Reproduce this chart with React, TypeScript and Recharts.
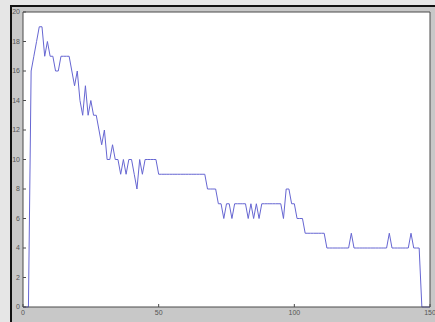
import { LineChart, Line, XAxis, YAxis, CartesianGrid } from "recharts";

// one value per x step, x = 0..150
const COUNTS = [
  0, 0, 0, 16, 17, 18, 19, 19, 17, 18,
  17, 17, 16, 16, 17, 17, 17, 17, 16, 15,
  16, 14, 13, 15, 13, 14, 13, 13, 12, 11,
  12, 10, 10, 11, 10, 10, 9, 10, 9, 10,
  10, 9, 8, 10, 9, 10, 10, 10, 10, 10,
  9, 9, 9, 9, 9, 9, 9, 9, 9, 9,
  9, 9, 9, 9, 9, 9, 9, 9, 8, 8,
  8, 8, 7, 7, 6, 7, 7, 6, 7, 7,
  7, 7, 7, 6, 7, 6, 7, 6, 7, 7,
  7, 7, 7, 7, 7, 7, 6, 8, 8, 7,
  7, 6, 6, 6, 5, 5, 5, 5, 5, 5,
  5, 5, 4, 4, 4, 4, 4, 4, 4, 4,
  4, 5, 4, 4, 4, 4, 4, 4, 4, 4,
  4, 4, 4, 4, 4, 5, 4, 4, 4, 4,
  4, 4, 4, 5, 4, 4, 4, 0, 0, 0,
  0,
];

const X_TICKS = [0, 50, 100, 150];
const Y_TICKS = [0, 2, 4, 6, 8, 10, 12, 14, 16, 18, 20];

const data = COUNTS.map((v, i) => ({ x: i, v }));

const AXIS = "#4a4a4a";
const tickStyle = { fontSize: 7, fill: "#555", fontFamily: "Liberation Sans, Arial, sans-serif" };

export default function App() {
  return (
    <div
      style={{
        position: "fixed",
        left: 0,
        top: 0,
        width: 435,
        height: 322,
        overflow: "hidden",
        background: "#e6e6e6",
      }}
    >
      <div
        style={{
          position: "absolute",
          left: 10,
          top: 5,
          right: 0,
          bottom: 0,
          background: "#c8c8c8",
          borderLeft: "2px solid #111",
          borderTop: "2px solid #111",
        }}
      />
      <div style={{ position: "absolute", left: 0, top: 0 }}>
        <LineChart
          width={435}
          height={322}
          data={data}
          margin={{ top: 11, right: 4, left: 0, bottom: 0 }}
        >
          <CartesianGrid horizontal={false} vertical={false} fill="#ffffff" stroke="none" />
          <XAxis
            dataKey="x"
            type="number"
            domain={[0, 150]}
            ticks={X_TICKS}
            height={15}
            tickSize={-3}
            tickMargin={6}
            tick={tickStyle}
            axisLine={{ stroke: AXIS }}
            tickLine={{ stroke: AXIS }}
            interval={0}
          />
          <XAxis
            xAxisId="t"
            orientation="top"
            dataKey="x"
            type="number"
            domain={[0, 150]}
            ticks={X_TICKS}
            height={1}
            tickSize={-3}
            tick={false}
            axisLine={{ stroke: AXIS }}
            tickLine={{ stroke: AXIS }}
            interval={0}
          />
          <YAxis
            type="number"
            domain={[0, 20]}
            ticks={Y_TICKS}
            width={23}
            tickSize={-3}
            tickMargin={6}
            tick={tickStyle}
            axisLine={{ stroke: AXIS }}
            tickLine={{ stroke: AXIS }}
            interval={0}
          />
          <YAxis
            yAxisId="r"
            orientation="right"
            type="number"
            domain={[0, 20]}
            ticks={Y_TICKS}
            width={1}
            tickSize={-3}
            tick={false}
            axisLine={{ stroke: AXIS }}
            tickLine={{ stroke: AXIS }}
            interval={0}
          />
          <Line
            dataKey="v"
            type="linear"
            stroke="#6666d2"
            strokeWidth={1}
            dot={false}
            activeDot={false}
            isAnimationActive={false}
          />
        </LineChart>
      </div>
    </div>
  );
}
